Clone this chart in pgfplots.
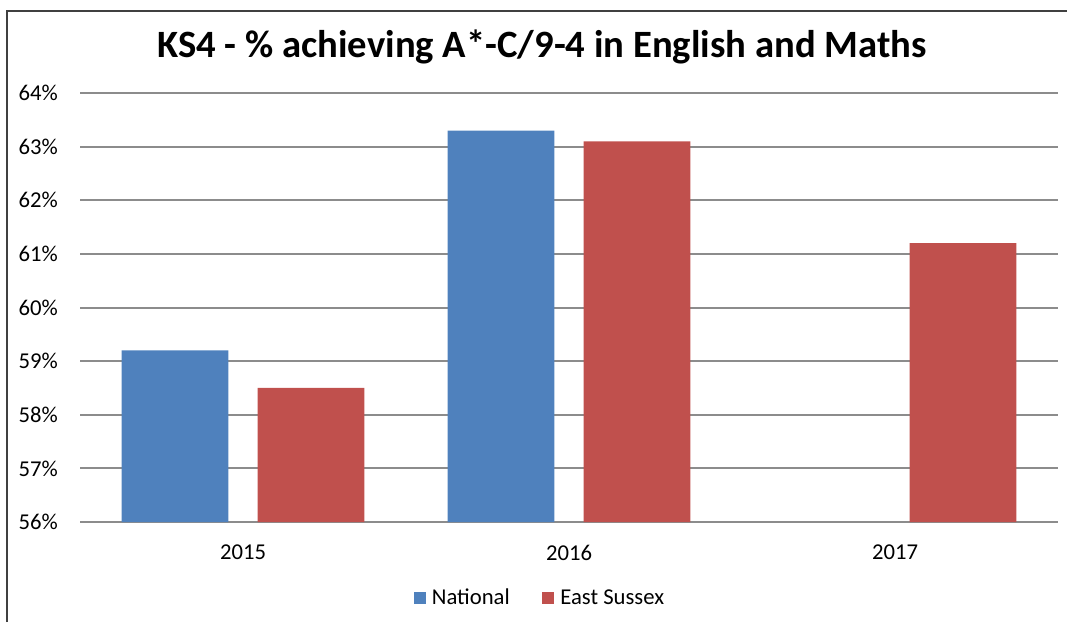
\documentclass[border=0pt]{standalone}
\usepackage{pgfplots}
\pgfplotsset{compat=1.18}
\usepackage{fontspec}
\setmainfont{Carlito}
\definecolor{natblue}{HTML}{4F81BD}
\definecolor{esred}{HTML}{C0504D}
\definecolor{gridgray}{HTML}{8C8C8C}
\begin{document}
\begin{tikzpicture}
\useasboundingbox (0,0) rectangle (800.25pt,466.5pt);
\draw[line width=1.8pt, black!75] (5.25pt,0) -- (5.25pt,458.25pt) -- (800.25pt,458.25pt);
\begin{axis}[
    at={(60pt,75pt)}, anchor=south west,
    scale only axis,
    width=733.5pt, height=321.75pt,
    xmin=-0.5, xmax=2.5,
    ymin=56, ymax=64,
    xtick={0,1,2},
    xticklabels={2015,2016,2017},
    ytick={56,57,...,64},
    yticklabel={\pgfmathprintnumber{\tick}\%},
    major tick length=0pt,
    axis line style={draw=none},
    ymajorgrids,
    major grid style={gridgray, line width=1.5pt},
    tick label style={font=\fontsize{17}{19}\selectfont},
    /pgf/number format/assume math mode=true,
    every y tick label/.append style={inner sep=0pt, xshift=-16.5pt},
    every x tick label/.append style={inner sep=0pt, yshift=-17pt},
    title={KS4 - \% achieving A*-C/9-4 in English and Maths},
    title style={at={(0.4724,1.088)}, anchor=center, font=\bfseries\fontsize{29}{32}\selectfont},
    legend style={at={(0.4724,-0.1772)}, anchor=center, draw=none,
        legend columns=2, font=\fontsize{17}{19}\selectfont,
        /tikz/every even column/.append style={column sep=20pt},
        nodes={inner xsep=4.5pt}},
    legend image code/.code={\fill[#1] (0pt,-4.5pt) rectangle (9pt,4.5pt);},
]
\addplot[ybar, bar width=80pt, bar shift=-51pt, fill=natblue, draw=none]
    coordinates {(0,59.2) (1,63.3)};
\addplot[ybar, bar width=80pt, bar shift=51pt, fill=esred, draw=none]
    coordinates {(0,58.5) (1,63.1) (2,61.2)};
\legend{National, East Sussex}
\end{axis}
\end{tikzpicture}
\end{document}
